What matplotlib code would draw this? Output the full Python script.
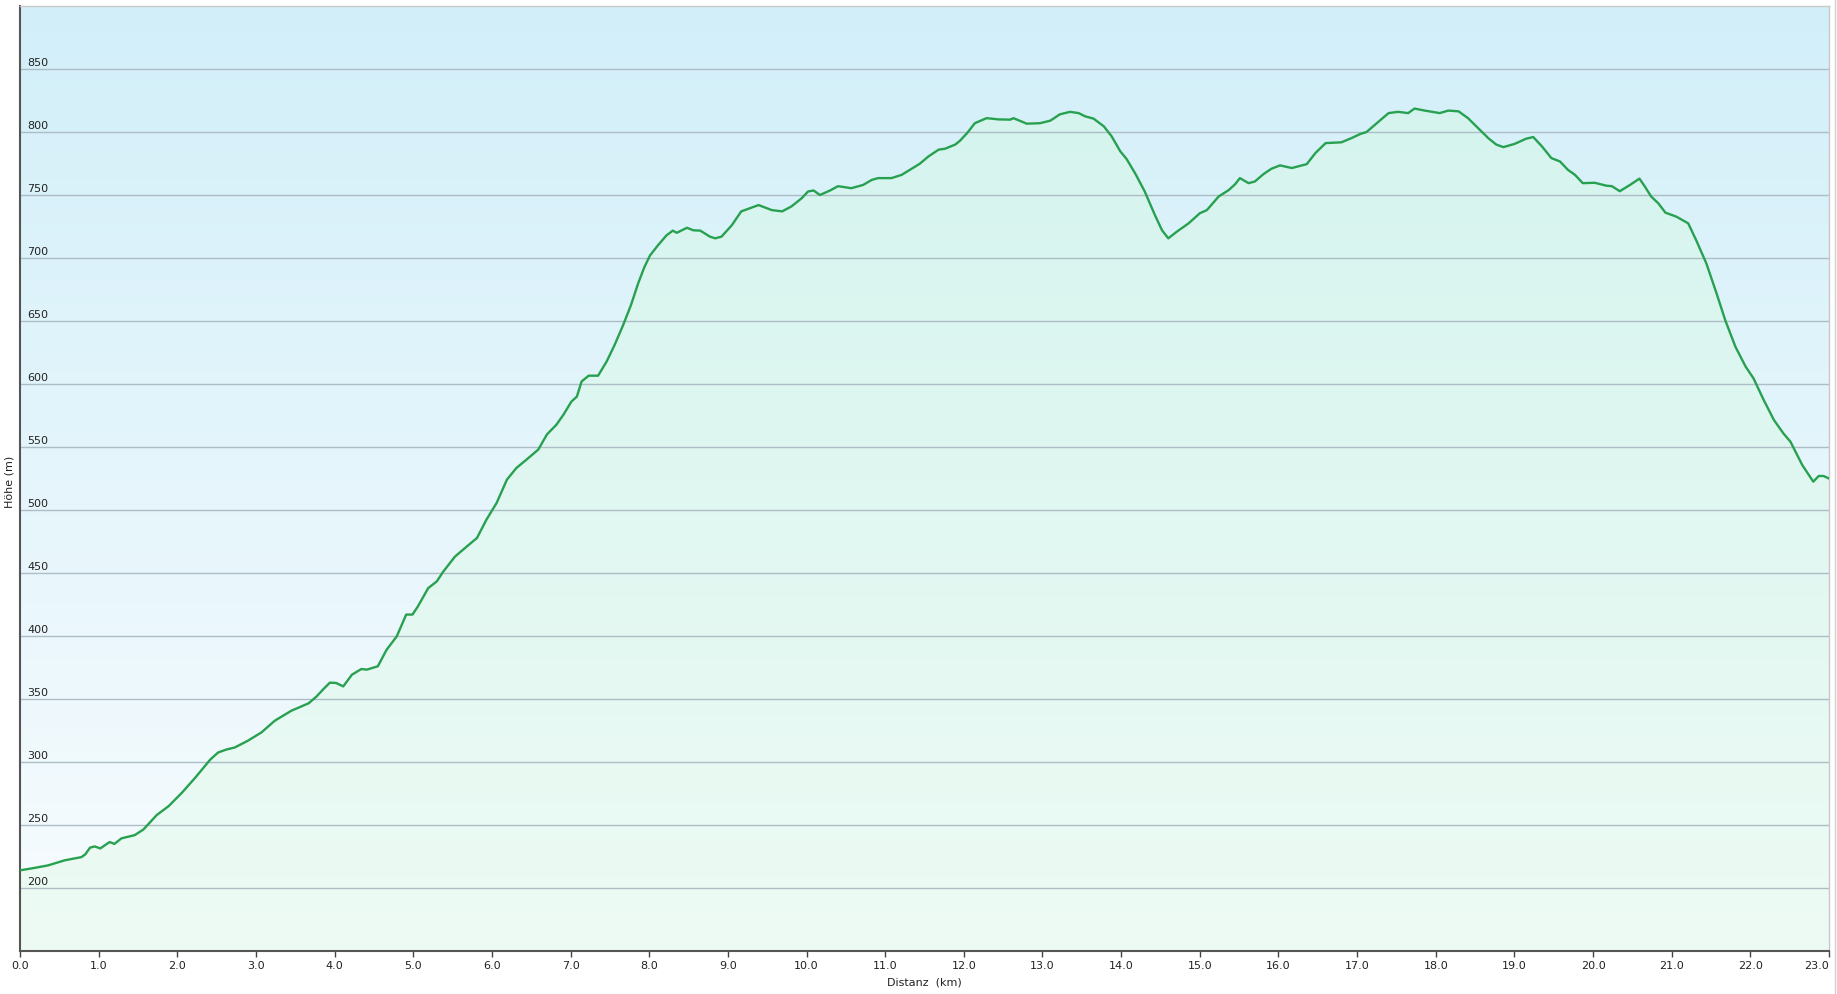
import numpy as np
import matplotlib
matplotlib.use("Agg")
import matplotlib.pyplot as plt
from matplotlib.colors import LinearSegmentedColormap
from matplotlib.lines import Line2D

# ─── Data ──────────────────────────────────────────────────────────────────────

distance_km = [
    0.0, 0.19, 0.36, 0.57, 0.78, 0.83, 0.89, 0.95, 1.02, 1.14, 1.2, 1.29, 1.46,
    1.57, 1.74, 1.89, 2.06, 2.23, 2.42, 2.52, 2.63, 2.73, 2.9, 3.07, 3.24, 3.45,
    3.67, 3.77, 3.86, 3.94, 4.02, 4.11, 4.22, 4.34, 4.41, 4.55, 4.66, 4.79, 4.91,
    4.99, 5.06, 5.19, 5.3, 5.38, 5.53, 5.68, 5.81, 5.93, 6.06, 6.19, 6.31, 6.44,
    6.59, 6.7, 6.82, 6.91, 7.01, 7.08, 7.14, 7.23, 7.35, 7.46, 7.56, 7.67, 7.77,
    7.86, 7.94, 8.01, 8.11, 8.22, 8.3, 8.35, 8.48, 8.56, 8.65, 8.77, 8.84, 8.92,
    9.05, 9.17, 9.28, 9.39, 9.56, 9.69, 9.81, 9.94, 10.02, 10.09, 10.17, 10.3,
    10.4, 10.57, 10.72, 10.83, 10.91, 11.08, 11.21, 11.34, 11.44, 11.55, 11.68,
    11.76, 11.89, 11.95, 12.04, 12.14, 12.29, 12.44, 12.59, 12.63, 12.8, 12.97,
    13.1, 13.22, 13.35, 13.46, 13.54, 13.65, 13.78, 13.88, 13.99, 14.07, 14.18,
    14.3, 14.43, 14.52, 14.6, 14.71, 14.86, 15.0, 15.09, 15.24, 15.37, 15.45,
    15.51, 15.62, 15.7, 15.81, 15.91, 16.02, 16.17, 16.36, 16.47, 16.6, 16.8,
    16.93, 17.04, 17.12, 17.25, 17.4, 17.52, 17.65, 17.73, 17.86, 18.05, 18.16,
    18.29, 18.41, 18.54, 18.67, 18.77, 18.86, 19.0, 19.15, 19.24, 19.35, 19.47,
    19.58, 19.68, 19.77, 19.87, 20.02, 20.17, 20.24, 20.34, 20.47, 20.59, 20.66,
    20.74, 20.83, 20.92, 21.06, 21.14, 21.21, 21.31, 21.44, 21.57, 21.68, 21.81,
    21.94, 22.04, 22.17, 22.3, 22.42, 22.51, 22.66, 22.8, 22.87, 22.93, 23.0,
]

elevation_m = [
    214, 216, 218, 222, 224.5, 226.7, 232, 233, 231.4, 236.5, 235, 239.4, 242,
    246.5, 258, 265, 275.7, 287.7, 302, 307.6, 310, 311.5, 317, 323.5, 332.8, 340.7,
    346.6, 352, 358, 363, 362.7, 360, 369.3, 373.8, 373.3, 376, 389, 399.7, 417,
    417, 423.6, 438, 443.4, 451, 463, 471, 477.8, 492.3, 505.6, 524, 533.3, 540,
    548, 560, 567.7, 575.7, 586, 590, 602, 606.6, 606.6, 618, 631, 647, 663,
    680, 693, 702, 710, 718, 721.7, 720, 724, 722, 721.7, 717, 715.6, 717,
    726, 737, 739.5, 742, 738, 737, 741, 747.5, 752.8, 753.6, 750, 753.6,
    757, 755.4, 758, 762, 763.4, 763.4, 766, 771, 774.8, 780.6, 786,
    786.7, 790, 793, 799, 807, 811, 810, 809.8, 811, 806.6, 807,
    809, 814, 816, 815, 812.5, 810.6, 804.5, 796.5, 784.6, 778.5, 767,
    752.8, 734, 722, 715.6, 721, 727.6, 735.5, 738, 748.8, 754, 758.6,
    763.4, 759.4, 760.7, 766.6, 770.8, 773.5, 771.4, 774.5, 783.3, 791.2, 791.8,
    795.2, 798.4, 800, 807, 815, 816, 815, 818.6, 817, 815, 817,
    816.4, 811, 803, 795, 790, 788, 790.5, 794.7, 796, 788.6, 779.3,
    776.6, 770, 766, 759.4, 759.7, 757.4, 757, 753, 758, 763, 756.6,
    748.7, 743.4, 736, 732.8, 730, 727.5, 714.3, 695.8, 672, 650.8, 629.6,
    613.8, 604.5, 587.3, 571.4, 560.8, 554.2, 535.7, 522.5, 527, 527, 525,
]

y_ticks = [200, 250, 300, 350, 400, 450, 500, 550, 600, 650, 700, 750, 800, 850]
x_ticks = [float(v) for v in range(0, 24)]

# ─── Figure ────────────────────────────────────────────────────────────────────

plt.rcParams["font.family"] = ["DejaVu Sans"]

fig = plt.figure(figsize=(18.37, 9.94), dpi=100)
ax = fig.add_axes([20 / 1837, 1 - 951 / 994, 1809 / 1837, 945 / 994])

XMIN, XMAX, YMIN, YMAX = 0, 23, 150, 900
ax.set_xlim(XMIN, XMAX)
ax.set_ylim(YMIN, YMAX)

# background gradient (light blue on top -> almost white at bottom)
bg_cmap = LinearSegmentedColormap.from_list("bg", ["#f8fcfe", "#d2eff9"])
grad = np.linspace(0, 1, 256).reshape(-1, 1)
ax.imshow(grad, extent=[XMIN, XMAX, YMIN, YMAX], origin="lower",
          aspect="auto", cmap=bg_cmap, zorder=0)

# area under the profile with its own mint gradient
fill_cmap = LinearSegmentedColormap.from_list("fill", ["#edfbf4", "#d3f3ee"])
poly = ax.fill_between(distance_km, elevation_m, YMIN, color="none", zorder=1)
im = ax.imshow(grad, extent=[XMIN, XMAX, YMIN, YMAX], origin="lower",
               aspect="auto", cmap=fill_cmap, zorder=1)
im.set_clip_path(poly.get_paths()[0], transform=ax.transData)

# grid lines + inside y labels
for v in y_ticks:
    ax.axhline(v, color="#adbdc5", lw=1.0, zorder=2)
    ax.annotate(str(v), xy=(0, v), xycoords=("axes fraction", "data"),
                xytext=(5, 1), textcoords="offset points",
                ha="left", va="bottom", fontsize=8, color="#222222", zorder=4)

ax.plot(distance_km, elevation_m, color="#27a150", lw=1.7, zorder=3,
        solid_joinstyle="round")

ax.set_yticks([])
ax.set_xticks(x_ticks)
ax.set_xticklabels([f"{v:.1f}" for v in x_ticks], fontsize=8, color="#222222")
ax.get_xticklabels()[-1].set_horizontalalignment("right")
ax.tick_params(axis="x", direction="out", length=4, width=1, color="#444444", pad=3)

ax.set_xlabel("Distanz  (km)", fontsize=8, color="#222222", labelpad=5)
fig.text(10 / 1837, 1 - 482 / 994, "Höhe (m)", rotation=90, fontsize=8,
         color="#222222", ha="center", va="center")

for side in ("left", "bottom"):
    ax.spines[side].set_color("#555555")
    ax.spines[side].set_linewidth(1.5)
for side in ("top", "right"):
    ax.spines[side].set_color("#c8c8c8")
    ax.spines[side].set_linewidth(1.0)

# thin frame line on the right side of the image
fig.add_artist(Line2D([1835 / 1837, 1835 / 1837], [0, 1], color="#d0d0d0", lw=1,
                      transform=fig.transFigure))

fig.savefig("out.png", dpi=100)
